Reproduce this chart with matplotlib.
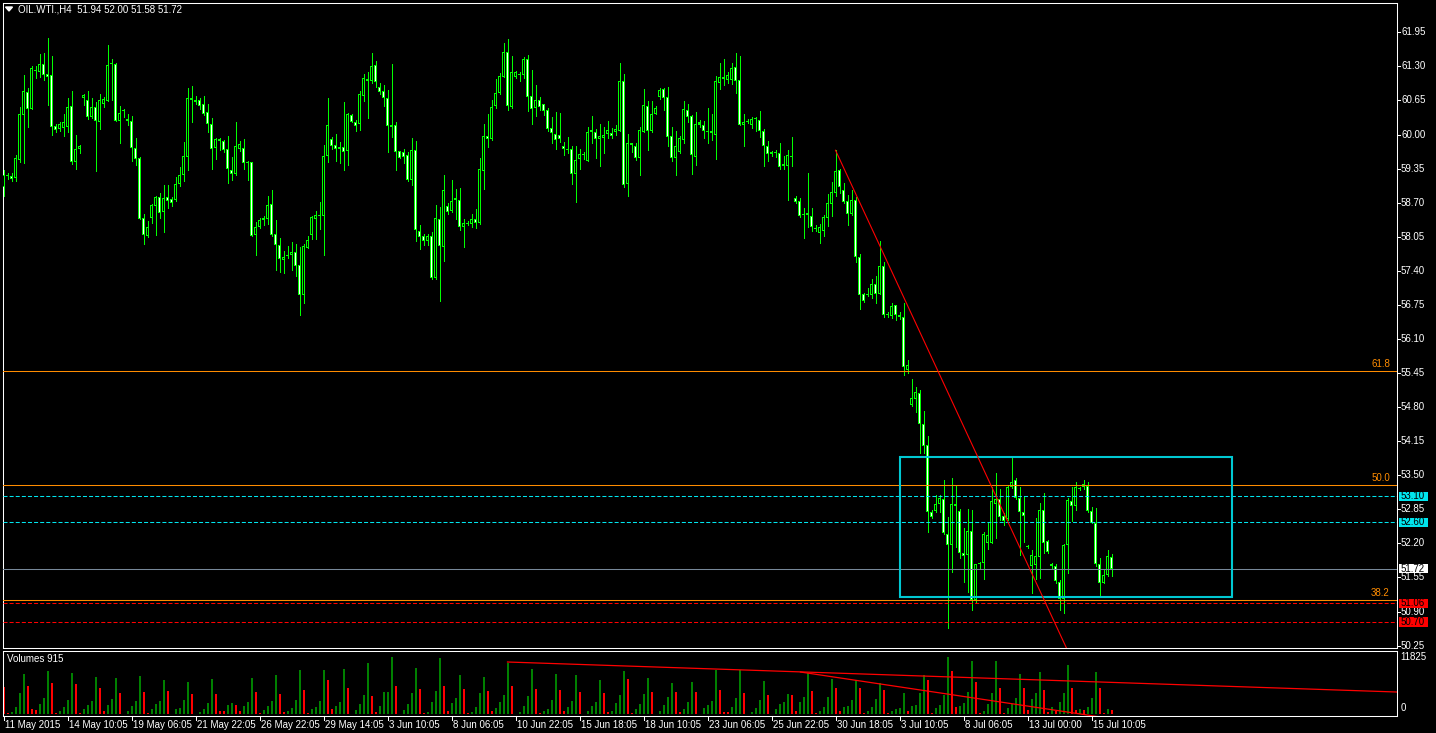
import matplotlib
matplotlib.use('Agg')
import matplotlib.pyplot as plt
from matplotlib.patches import Rectangle, Polygon
from matplotlib.lines import Line2D
from matplotlib.transforms import blended_transform_factory
import numpy as np

W, H, DPI = 1436, 733, 100

header = "OIL.WTI.,H4  51.94 52.00 51.58 51.72"

opens = [59.00, 59.21, 59.21, 59.18, 59.51, 60.38, 60.81, 60.49, 61.22, 61.20,
         61.34, 61.16, 61.13, 60.17, 60.10, 60.13, 60.15, 60.55, 59.47, 59.72,
         60.70, 60.66, 60.34, 60.52, 60.24, 60.59, 60.64, 61.35, 61.34, 60.26,
         60.44, 60.30, 60.25, 59.75, 59.55, 58.40, 58.06, 58.40, 58.64, 58.81,
         58.53, 58.80, 58.77, 58.75, 59.05, 59.23, 59.57, 60.69, 60.65, 60.65,
         60.58, 60.43, 60.21, 59.75, 59.91, 59.87, 59.72, 59.33, 59.25, 59.73,
         59.75, 59.46, 59.47, 58.09, 58.24, 58.37, 58.38, 58.67, 58.11, 57.90,
         57.60, 57.71, 57.70, 57.76, 57.51, 56.94, 57.84, 58.09, 58.39, 58.45,
         58.45, 59.59, 59.91, 59.80, 59.77, 59.76, 59.69, 60.37, 60.23, 60.21,
         60.74, 61.05, 61.03, 61.32, 60.90, 60.83, 60.69, 60.18, 60.18, 59.69,
         59.66, 59.60, 59.14, 59.70, 58.16, 58.06, 57.97, 58.06, 57.27, 58.38,
         57.86, 58.63, 58.55, 58.78, 58.76, 58.23, 58.32, 58.29, 58.38, 58.32,
         59.31, 59.97, 59.91, 60.55, 60.79, 61.09, 61.57, 60.53, 61.10, 61.16,
         61.14, 61.45, 60.73, 60.51, 60.66, 60.58, 60.47, 60.13, 60.01, 59.99,
         59.78, 59.72, 59.73, 59.24, 59.54, 59.60, 59.50, 60.04, 60.04, 59.92,
         59.94, 60.01, 60.03, 60.04, 60.07, 61.02, 59.06, 59.83, 59.79, 59.56,
         60.05, 60.54, 60.07, 60.40, 60.72, 60.86, 60.71, 59.97, 59.56, 59.67,
         59.89, 60.47, 60.35, 59.57, 60.19, 60.18, 60.07, 60.06, 59.99, 60.99,
         61.09, 61.04, 61.04, 61.29, 61.04, 60.18, 60.26, 60.18, 60.29, 60.27,
         60.07, 59.79, 59.67, 59.65, 59.64, 59.43, 59.40, 59.59, 58.78, 58.73,
         58.48, 58.46, 58.44, 58.22, 58.13, 58.15, 58.40, 58.67, 58.88, 59.32,
         58.94, 58.73, 58.48, 58.75, 57.66, 56.96, 56.95, 56.93, 57.15, 56.96,
         57.49, 56.58, 56.54, 56.74, 56.56, 56.51, 55.51, 54.84, 54.95, 55.06,
         54.48, 54.08, 52.80, 52.82, 52.96, 53.04, 52.38, 52.16, 52.95, 52.82,
         52.01, 51.98, 52.44, 51.12, 51.83, 51.83, 52.20, 52.21, 52.96, 53.04,
         52.72, 52.66, 53.27, 53.41, 53.06, 52.80, 52.14, 51.77, 51.79, 51.94,
         52.83, 52.24, 51.76, 51.77, 51.47, 51.13, 52.16, 53.01, 52.91, 53.25,
         53.28, 53.30, 52.82, 52.59, 51.80, 51.45, 51.60, 51.94]

highs = [59.33, 59.26, 59.26, 59.60, 60.52, 61.13, 60.88, 61.30, 61.30, 61.54,
         61.55, 61.84, 61.49, 60.21, 60.24, 60.40, 60.69, 60.83, 59.99, 59.80,
         60.77, 60.83, 60.69, 60.62, 60.77, 60.72, 61.71, 61.44, 61.36, 60.54,
         60.48, 60.40, 60.35, 59.93, 59.57, 58.48, 58.35, 58.68, 58.83, 58.88,
         59.04, 59.04, 58.81, 59.19, 59.38, 59.85, 60.88, 60.92, 60.74, 60.70,
         60.74, 60.59, 60.31, 59.94, 59.94, 59.90, 59.97, 59.58, 60.24, 59.87,
         59.91, 59.49, 59.47, 58.33, 58.40, 58.44, 58.83, 58.94, 58.37, 58.02,
         57.78, 57.87, 57.95, 57.92, 57.86, 57.92, 58.06, 58.44, 58.54, 58.71,
         59.80, 60.69, 59.96, 60.01, 59.85, 60.62, 60.42, 60.39, 60.28, 60.83,
         61.15, 61.20, 61.56, 61.40, 60.99, 60.94, 60.85, 61.34, 60.23, 59.69,
         59.72, 59.67, 59.94, 59.87, 58.27, 58.10, 58.10, 58.14, 58.66, 58.62,
         59.23, 58.70, 59.13, 58.96, 58.98, 58.39, 58.35, 58.48, 58.58, 59.55,
         60.21, 60.39, 60.66, 61.05, 61.17, 61.75, 61.82, 61.50, 61.21, 61.20,
         61.48, 61.51, 61.23, 60.94, 60.72, 60.58, 60.50, 60.33, 60.43, 60.42,
         59.86, 59.96, 59.78, 59.78, 59.72, 59.66, 60.15, 60.35, 60.10, 60.20,
         60.14, 60.26, 60.13, 60.19, 61.37, 61.15, 60.01, 59.83, 59.83, 60.14,
         60.86, 60.64, 60.64, 60.54, 60.89, 60.89, 60.90, 60.15, 60.07, 59.97,
         60.64, 60.58, 60.37, 60.43, 60.27, 60.26, 60.50, 60.39, 61.11, 61.37,
         61.45, 61.20, 61.36, 61.56, 61.50, 60.39, 60.29, 60.33, 60.33, 60.45,
         60.10, 59.87, 59.69, 59.70, 59.83, 59.59, 59.70, 59.96, 58.83, 58.78,
         58.60, 59.26, 58.60, 58.27, 58.30, 58.46, 58.86, 59.09, 59.70, 59.35,
         59.08, 58.85, 58.94, 58.80, 57.73, 56.98, 57.07, 57.24, 57.30, 57.96,
         57.57, 56.62, 56.78, 56.75, 56.62, 56.79, 55.69, 55.34, 55.19, 55.13,
         54.73, 54.24, 52.84, 53.12, 53.12, 53.40, 52.71, 53.44, 53.30, 52.85,
         52.49, 52.85, 52.84, 51.81, 51.85, 52.41, 52.58, 53.28, 53.55, 53.23,
         52.78, 53.31, 53.84, 53.44, 53.28, 53.10, 52.16, 52.08, 52.68, 52.97,
         53.16, 52.27, 51.82, 51.80, 51.50, 52.19, 53.06, 53.28, 53.38, 53.27,
         53.41, 53.38, 52.90, 52.87, 51.92, 51.70, 52.08, 52.00]

lows = [58.83, 59.16, 59.12, 59.11, 59.48, 59.46, 60.15, 60.49, 61.08, 61.10,
        61.04, 60.56, 59.99, 60.04, 60.07, 59.97, 60.05, 59.43, 59.35, 59.65,
        60.56, 60.29, 60.31, 59.31, 60.10, 60.53, 60.64, 60.66, 60.26, 59.84,
        60.34, 60.18, 59.50, 59.42, 58.39, 57.91, 58.04, 58.32, 58.09, 58.41,
        58.14, 58.60, 58.64, 58.73, 59.02, 59.12, 59.33, 60.24, 60.59, 60.49,
        60.37, 60.04, 59.35, 59.53, 59.70, 59.67, 59.08, 59.13, 59.23, 59.69,
        59.35, 59.13, 58.07, 57.70, 58.21, 58.27, 58.30, 58.06, 57.42, 57.38,
        57.35, 57.64, 57.41, 57.30, 56.56, 56.79, 57.83, 58.00, 58.00, 58.20,
        57.70, 59.48, 59.72, 59.50, 59.45, 59.32, 59.41, 60.23, 60.07, 60.09,
        60.63, 60.31, 60.98, 60.90, 60.77, 60.55, 59.67, 59.96, 59.32, 59.56,
        59.46, 59.11, 59.04, 57.97, 57.82, 57.89, 57.89, 57.24, 57.25, 56.83,
        57.59, 58.48, 58.53, 58.39, 58.17, 57.86, 58.27, 58.24, 58.22, 58.29,
        58.97, 59.77, 59.90, 60.51, 60.77, 61.09, 60.47, 60.51, 61.07, 61.03,
        61.08, 60.45, 60.20, 60.35, 60.47, 60.37, 60.07, 59.83, 59.72, 59.86,
        59.61, 59.65, 59.06, 58.72, 59.35, 59.54, 59.50, 59.84, 59.56, 59.40,
        59.65, 59.94, 59.94, 59.99, 60.07, 59.00, 58.83, 59.67, 59.51, 59.23,
        60.05, 59.70, 60.05, 60.40, 60.67, 60.47, 59.78, 59.50, 59.23, 59.64,
        59.84, 60.24, 59.25, 59.42, 60.15, 59.94, 59.84, 59.90, 59.54, 60.86,
        60.94, 60.99, 60.96, 60.80, 60.18, 59.78, 60.22, 60.12, 60.07, 59.95,
        59.40, 59.50, 59.59, 59.58, 59.35, 59.34, 58.75, 59.39, 58.70, 58.43,
        58.03, 58.24, 58.15, 58.15, 57.93, 58.07, 58.25, 58.45, 58.83, 58.88,
        58.69, 58.27, 58.47, 57.57, 56.68, 56.81, 56.91, 56.88, 56.78, 56.96,
        56.51, 56.51, 56.50, 56.46, 56.48, 55.41, 55.46, 54.82, 54.70, 53.92,
        53.92, 52.41, 52.68, 52.80, 52.79, 52.38, 50.58, 51.66, 52.14, 51.92,
        51.47, 51.28, 50.93, 51.08, 51.71, 51.52, 52.09, 52.20, 52.30, 52.65,
        52.55, 52.65, 53.25, 53.04, 51.98, 52.23, 52.12, 51.26, 51.53, 51.54,
        52.01, 52.01, 51.74, 51.44, 50.93, 50.88, 51.63, 52.62, 52.84, 53.22,
        53.23, 52.79, 52.59, 51.77, 51.22, 51.44, 51.57, 51.58]

closes = [59.22, 59.21, 59.15, 59.55, 60.39, 60.83, 60.49, 61.26, 61.23, 61.34,
          61.14, 61.10, 60.15, 60.09, 60.21, 60.23, 60.53, 59.48, 59.73, 59.79,
          60.75, 60.34, 60.53, 60.26, 60.66, 60.68, 61.32, 61.36, 60.26, 60.42,
          60.45, 60.25, 59.75, 59.53, 58.39, 58.09, 58.23, 58.65, 58.81, 58.51,
          58.79, 58.73, 58.70, 59.05, 59.22, 59.59, 60.69, 60.65, 60.62, 60.55,
          60.39, 60.21, 59.73, 59.91, 59.88, 59.70, 59.34, 59.25, 59.78, 59.81,
          59.46, 59.45, 58.07, 58.23, 58.36, 58.40, 58.65, 58.09, 57.90, 57.63,
          57.66, 57.69, 57.76, 57.50, 56.93, 57.87, 57.99, 58.42, 58.46, 58.44,
          59.59, 60.18, 59.79, 59.72, 59.72, 59.67, 60.39, 60.24, 60.17, 60.77,
          61.07, 61.03, 61.30, 61.00, 60.82, 60.69, 60.17, 60.15, 59.67, 59.56,
          59.58, 59.13, 59.70, 58.17, 58.05, 57.96, 58.06, 57.27, 58.40, 57.87,
          58.94, 58.53, 58.74, 58.76, 58.23, 58.32, 58.30, 58.38, 58.32, 59.34,
          59.97, 59.91, 60.52, 60.79, 61.11, 61.57, 60.55, 61.19, 61.20, 61.14,
          61.44, 60.72, 60.48, 60.66, 60.52, 60.45, 60.10, 60.02, 59.90, 59.91,
          59.72, 59.71, 59.24, 59.52, 59.62, 59.61, 60.05, 60.08, 59.91, 59.97,
          60.00, 60.09, 59.97, 60.10, 61.02, 59.04, 59.83, 59.80, 59.56, 60.09,
          60.56, 60.07, 60.39, 60.50, 60.85, 60.70, 59.96, 59.56, 59.78, 59.94,
          60.49, 60.33, 59.60, 60.20, 60.23, 60.07, 60.05, 60.02, 61.02, 61.09,
          61.06, 61.13, 61.27, 61.02, 60.18, 60.23, 60.24, 60.29, 60.30, 60.07,
          59.79, 59.63, 59.63, 59.66, 59.38, 59.40, 59.61, 59.57, 58.72, 58.45,
          58.46, 58.50, 58.23, 58.20, 58.24, 58.42, 58.69, 58.90, 59.30, 58.99,
          58.72, 58.48, 58.75, 57.66, 56.94, 56.83, 56.93, 57.15, 56.96, 57.49,
          56.56, 56.55, 56.73, 56.55, 56.51, 55.57, 55.60, 54.98, 55.08, 54.47,
          54.06, 52.79, 52.70, 52.95, 53.06, 52.40, 52.17, 52.96, 52.92, 52.01,
          51.96, 52.44, 51.12, 51.81, 51.80, 52.38, 52.36, 53.00, 53.04, 52.71,
          52.63, 53.28, 53.38, 53.06, 52.79, 52.73, 52.13, 51.98, 51.95, 52.84,
          52.20, 52.03, 51.81, 51.49, 51.13, 52.17, 53.03, 52.92, 53.28, 53.23,
          53.33, 52.82, 52.59, 51.80, 51.45, 51.60, 51.96, 51.72]

volumes = [5570, 140, 480, 1510, 4400, 8320, 5840, 1030, 825, 2060,
           3300, 8870, 6390, 275, 690, 1510, 2890, 8525, 6190, 140,
           960, 1860, 2750, 7630, 5360, 690, 1860, 3090, 7490, 4400,
           70, 620, 1720, 2750, 7900, 4540, 275, 1030, 2060, 2680,
           7010, 4810, 70, 1100, 1150, 2890, 6600, 4190, 70, 410,
           1100, 2340, 7220, 4190, 620, 600, 1930, 2340, 1860, 690,
           1650, 2470, 7490, 4540, 210, 825, 1650, 2680, 8110, 4190,
           480, 620, 1170, 2890, 9080, 4950, 275, 1030, 1510, 2680,
           9080, 7010, 1030, 1720, 2470, 9280, 5430, 70, 825, 2060,
           3920, 10520, 3710, 480, 1650, 4470, 4600, 11760, 5780, 70,
           825, 1990, 4260, 9490, 5160, 210, 480, 2470, 4740, 11550,
           5780, 620, 2270, 3230, 8050, 5160, 140, 410, 1510, 4330,
           7630, 4740, 620, 1240, 2470, 3920, 10520, 5780, 70, 410,
           1650, 3710, 9280, 5160, 140, 620, 1030, 2890, 8250, 4950,
           620, 1440, 2680, 8050, 4540, 70, 620, 1650, 2470, 7010,
           4330, 410, 700, 2270, 3920, 8870, 7220, 210, 1030, 2060,
           4120, 7420, 4540, 70, 620, 1860, 3510, 6390, 4470, 410,
           1030, 2470, 6600, 4540, 70, 1240, 1860, 2680, 9080, 4950,
           480, 450, 1440, 3300, 9080, 4330, 70, 480, 1240, 2890,
           6800, 3920, 70, 1030, 2060, 2470, 4120, 3920, 690, 2470,
           3510, 8460, 4740, 210, 620, 1440, 3510, 7220, 5360, 620,
           1440, 1650, 2890, 7010, 5360, 210, 620, 1440, 3090, 6390,
           4950, 210, 620, 1030, 1240, 4330, 620, 1650, 1860, 4330,
           8050, 7010, 210, 1240, 1860, 3920, 11825, 8870, 1440, 1650,
           2270, 4540, 10930, 6530, 210, 620, 2060, 4330, 10930, 5360,
           210, 1240, 2060, 3300, 8250, 5360, 825, 3090, 4330, 8660,
           4950, 410, 1440, 620, 2470, 4330, 10110, 5360, 825, 1030,
           825, 1440, 3300, 8660, 5360, 210, 1030, 915]

x_tick_bars = [0, 16, 32, 48, 64, 80, 96, 112, 128, 144, 160, 176, 192, 208, 224, 240, 256, 272]
x_tick_labels = ["11 May 2015", "14 May 10:05", "19 May 06:05", "21 May 22:05", "26 May 22:05",
                 "29 May 14:05", "3 Jun 10:05", "8 Jun 06:05", "10 Jun 22:05", "15 Jun 18:05",
                 "18 Jun 10:05", "23 Jun 06:05", "25 Jun 22:05", "30 Jun 18:05", "3 Jul 10:05",
                 "8 Jul 06:05", "13 Jul 00:00", "15 Jul 10:05"]
price_ticks = [61.95, 61.30, 60.65, 60.00, 59.35, 58.70, 58.05, 57.40, 56.75, 56.10,
               55.45, 54.80, 54.15, 53.50, 52.85, 52.20, 51.55, 50.90, 50.25]
vol_ticks = [11825, 0]

fib_levels = [55.49, 53.32, 51.12]
fib_names = ["61.8", "50.0", "38.2"]
cyan_levels = [53.10, 52.60]
red_levels = [51.06, 50.70]
bid_level = 51.72
box_bars = [224, 307]
box_prices = [51.18, 53.85]
trend_main = [(208, 59.70), (264, 50.49)]
vol_line1 = [(126, 10725), (348.25, 4537)]
vol_line2 = [(199.25, 8660), (269.25, 0)]

# ---------------------------------------------------------------
plt.rcParams['font.family'] = ['Liberation Sans', 'DejaVu Sans']
plt.rcParams['lines.scale_dashes'] = False
LIME = '#00FF00'
CYAN = '#00E5EE'
BOXC = '#00C8D2'
ORANGE = '#FF8C00'
RED = '#FF0000'
GRAY = '#778899'
FS = 7

fig = plt.figure(figsize=(W / DPI, H / DPI), dpi=DPI, facecolor='black')

def fx(px):
    return px / W

def fy(py):
    return 1 - py / H

L, R = 2.5, 1396.5
ax = fig.add_axes([fx(L), fy(647.5), (R - L) / W, (647.5 - 2.5) / H], facecolor='black')
axv = fig.add_axes([fx(L), fy(715.5), (R - L) / W, (715.5 - 650.5) / H], facecolor='black')
for a in (ax, axv):
    a.set_xlim(-0.25, 348.25)
    a.set_xticks([])
    a.set_yticks([])
    for s in a.spines.values():
        s.set_color('white')
        s.set_linewidth(0.75)
ax.set_ylim(50.214, 62.5185)
axv.set_ylim(-309, 13097)

n = len(closes)
idx = np.arange(n)
PX = 1.0 / 52.42  # one pixel in price units

# candles: 1px wick, 3px green body, 1px inner white (bear) / black (bull)
ax.vlines(idx, lows, highs, colors=LIME, linewidth=0.72, antialiased=False, zorder=2)
blo = np.minimum(opens, closes)
bhi = np.maximum(np.maximum(opens, closes), blo + PX)
ax.bar(idx, bhi - blo, bottom=blo, width=0.75, color=LIME, linewidth=0,
       antialiased=False, zorder=3)
inner_c = np.array(['white' if c < o else 'black' for o, c in zip(opens, closes)])
mask = (bhi - blo) > 2.2 * PX
ax.bar(idx[mask], (bhi - blo)[mask] - 2 * PX, bottom=(blo + PX)[mask], width=0.3,
       color=list(inner_c[mask]), linewidth=0, antialiased=False, zorder=4)

# horizontal levels
for lv, nm in zip(fib_levels, fib_names):
    ax.axhline(lv, color=ORANGE, lw=0.75, zorder=5)
    ax.text(346.6, lv + 0.03, nm, color=ORANGE, fontsize=FS, ha='right', va='bottom', zorder=6)
for lv in cyan_levels:
    ax.axhline(lv, color=CYAN, lw=0.75, ls=(0, (2.9, 1.5)), zorder=5)
for lv in red_levels:
    ax.axhline(lv, color=RED, lw=0.75, ls=(0, (2.9, 1.5)), zorder=5)
ax.axhline(bid_level, color=GRAY, lw=0.75, zorder=5)

# rectangle
ax.add_patch(Rectangle((box_bars[0], box_prices[0]), box_bars[1] - box_bars[0],
                       box_prices[1] - box_prices[0], fill=False, edgecolor=BOXC, lw=1.5, zorder=6))

# main trend line (ray)
(x0, y0), (x1, y1) = trend_main
slope = (y1 - y0) / (x1 - x0)
x_end = 320
ax.plot([x0, x_end], [y0, y0 + slope * (x_end - x0)], color=RED, lw=0.8, zorder=6)

# volumes
vcolors = ['#008000' if (i > 0 and volumes[i] > volumes[i - 1]) else RED for i in range(n)]
axv.bar(idx + 0.125, volumes, width=0.55, color=vcolors, linewidth=0, antialiased=False, zorder=2)
for ln in (vol_line1, vol_line2):
    (a0, b0), (a1, b1) = ln
    sl = (b1 - b0) / (a1 - a0)
    axv.plot([a0, a1 + 40], [b0, b1 + sl * 40], color=RED, lw=0.9, zorder=4)

# right price axis
btr = blended_transform_factory(fig.transFigure, ax.transData)
for p in price_ticks:
    ax.add_line(Line2D([fx(R), fx(R + 3.5)], [p, p], color='white', lw=0.75,
                       transform=btr, clip_on=False))
    ax.text(fx(1401), p, f"{p:.2f}", color='white', fontsize=FS, va='center', ha='left',
            transform=btr, clip_on=False)

def price_box(p, bg, fg):
    hh = 4.6 * PX
    ax.add_patch(Rectangle((fx(1398.5), p - hh), fx(29.5), 2 * hh, facecolor=bg, edgecolor='none',
                           transform=btr, clip_on=False, zorder=8))
    ax.text(fx(1401), p, f"{p:.2f}", color=fg, fontsize=FS, va='center', ha='left',
            transform=btr, clip_on=False, zorder=9)

for lv in cyan_levels:
    price_box(lv, CYAN, 'black')
price_box(bid_level, 'white', 'black')
for lv in red_levels:
    price_box(lv, RED, 'black')

# volume axis labels
vtr = blended_transform_factory(fig.transFigure, axv.transData)
axv.text(fx(1400.5), vol_ticks[0], f"{vol_ticks[0]}", color='white', fontsize=FS, va='center',
         ha='left', transform=vtr, clip_on=False)
axv.text(fx(1400.5), vol_ticks[1] + 200, f"{vol_ticks[1]}", color='white', fontsize=FS, va='bottom',
         ha='left', transform=vtr, clip_on=False)

# x axis labels
xtr = blended_transform_factory(axv.transData, fig.transFigure)
for b, lab in zip(x_tick_bars, x_tick_labels):
    axv.add_line(Line2D([b, b], [fy(715.5), fy(720)], color='white', lw=0.75,
                        transform=xtr, clip_on=False))
    axv.text(b + 0.3, fy(724.5), lab, color='white', fontsize=FS, ha='left', va='center',
             transform=xtr, clip_on=False)

# header texts
fig.add_artist(Polygon([[fx(5.5), fy(7)], [fx(12.5), fy(7)], [fx(9), fy(11)]],
                       closed=True, transform=fig.transFigure, color='white'))
fig.text(fx(18), fy(9.5), header, color='white', fontsize=FS, ha='left', va='center')
fig.text(fx(7), fy(659.5), f"Volumes {volumes[-1]}", color='white', fontsize=FS, ha='left', va='center')

fig.savefig('out.png', dpi=DPI, facecolor='black')
